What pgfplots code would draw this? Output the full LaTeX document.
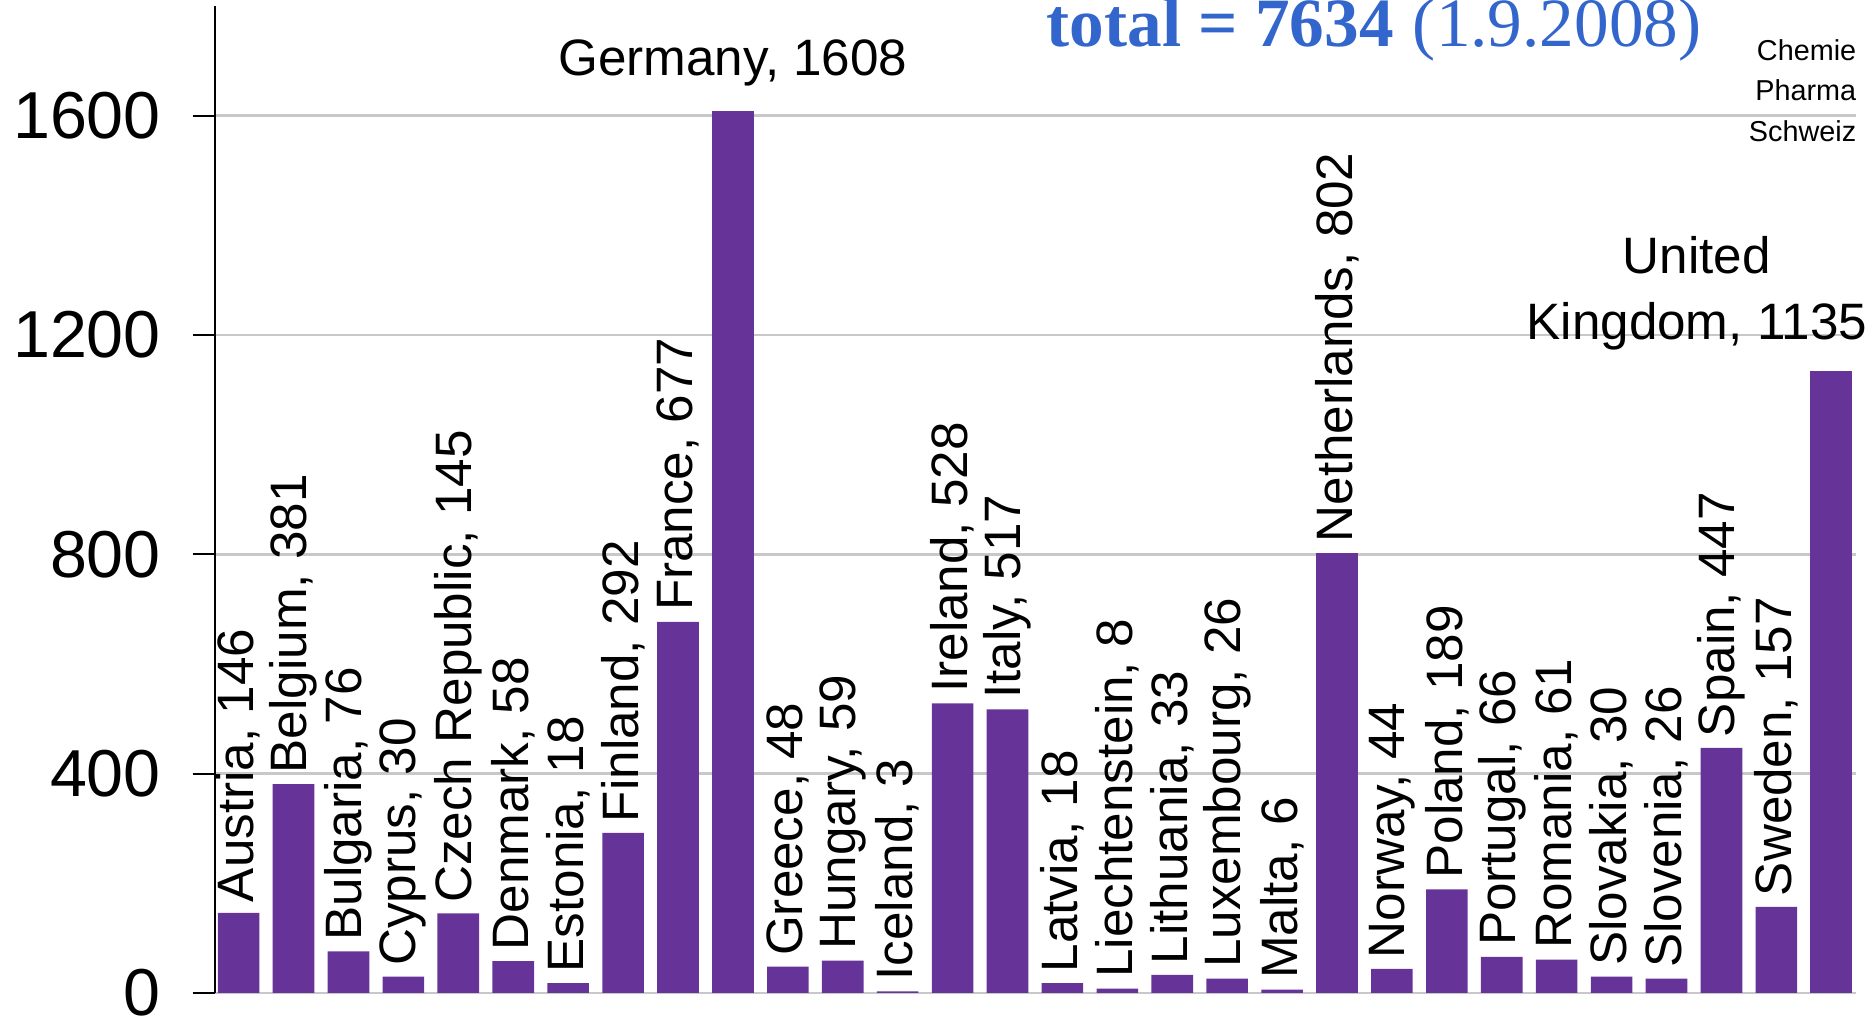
\documentclass[border=0pt]{standalone}
\usepackage{pgfplots}
\usepackage{pgfplotstable}
\pgfplotsset{compat=1.18}
\usepackage{fontspec}
\setmainfont{Liberation Sans}
\newfontfamily\seriffont{Liberation Serif}
\definecolor{barpurple}{HTML}{663399}
\definecolor{titleblue}{HTML}{3366CC}
\definecolor{gridgray}{HTML}{C8C8C8}

\pgfplotstableread[col sep=semicolon]{
x;y;name
0;146;Austria
1;381;Belgium
2;76;Bulgaria
3;30;Cyprus
4;145;Czech Republic
5;58;Denmark
6;18;Estonia
7;292;Finland
8;677;France
10;48;Greece
11;59;Hungary
12;3;Iceland
13;528;Ireland
14;517;Italy
15;18;Latvia
16;8;Liechtenstein
17;33;Lithuania
18;26;Luxembourg
19;6;Malta
20;802;Netherlands
21;44;Norway
22;189;Poland
23;66;Portugal
24;61;Romania
25;30;Slovakia
26;26;Slovenia
27;447;Spain
28;157;Sweden
}\maintable

\begin{document}
\begin{tikzpicture}
\begin{axis}[
  at={(53.75pt,8pt)}, anchor=south west,
  scale only axis, width=410.25pt, height=246.75pt,
  xmin=-0.43, xmax=29.45, ymin=0, ymax=1800,
  ytick={0,400,800,1200,1600},
  xtick=\empty,
  ymajorgrids, grid style={draw=gridgray, line width=0.6pt},
  axis x line*=bottom, axis y line*=left,
  x axis line style={draw=gridgray, line width=0.6pt, -},
  y axis line style={draw=black, line width=0.5pt, -},
  tick align=outside, major tick length=5.6pt,
  ytick style={draw=black, line width=0.5pt},
  /pgf/number format/assume math mode=true,
  /pgf/number format/1000 sep={},
  yticklabel style={font=\fontsize{16.6}{16.6}\selectfont, xshift=-4.4pt},
  ybar, bar width=10.4pt, bar shift=0pt,
  clip=false,
]
\addplot[fill=barpurple, draw=none,
  point meta=explicit symbolic,
  nodes near coords={\pgfplotspointmeta, \pgfmathprintnumber{\pgfkeysvalueof{/data point/y}}},
  every node near coord/.style={rotate=90, anchor=west, inner sep=2.5pt,
    font=\fontsize{12.8}{12.8}\selectfont, text=black},
] table[x=x, y=y, meta=name] {\maintable};
\addplot[fill=barpurple, draw=none,
  nodes near coords={Germany, 1608},
  every node near coord/.style={anchor=base, yshift=9pt, inner sep=0pt,
    font=\fontsize{12.8}{12.8}\selectfont, text=black},
] coordinates {(9,1608)};
\addplot[fill=barpurple, draw=none,
  nodes near coords={United\\Kingdom, 1135},
  every node near coord/.style={anchor=south, align=center, yshift=5pt, xshift=-33.6pt, inner sep=0pt,
    font=\fontsize{12.8}{16.4}\selectfont, text=black},
] coordinates {(29,1135)};
\end{axis}
\node[anchor=base west, inner sep=0pt, text=titleblue, font=\fontsize{17.3}{17.3}\selectfont] at (261.5pt,244.6pt)
  {{\seriffont\bfseries total = 7634} {\seriffont (1.9.2008)}};
\node[anchor=base east, inner sep=0pt, font=\fontsize{7.2}{7.2}\selectfont] at (464.25pt,241pt) {Chemie};
\node[anchor=base east, inner sep=0pt, font=\fontsize{7.2}{7.2}\selectfont] at (464.25pt,231pt) {Pharma};
\node[anchor=base east, inner sep=0pt, font=\fontsize{7.2}{7.2}\selectfont] at (464.25pt,220.75pt) {Schweiz};
\pgfresetboundingbox
\path[use as bounding box] (0,0) rectangle (468.75pt,256.25pt);
\end{tikzpicture}
\end{document}
